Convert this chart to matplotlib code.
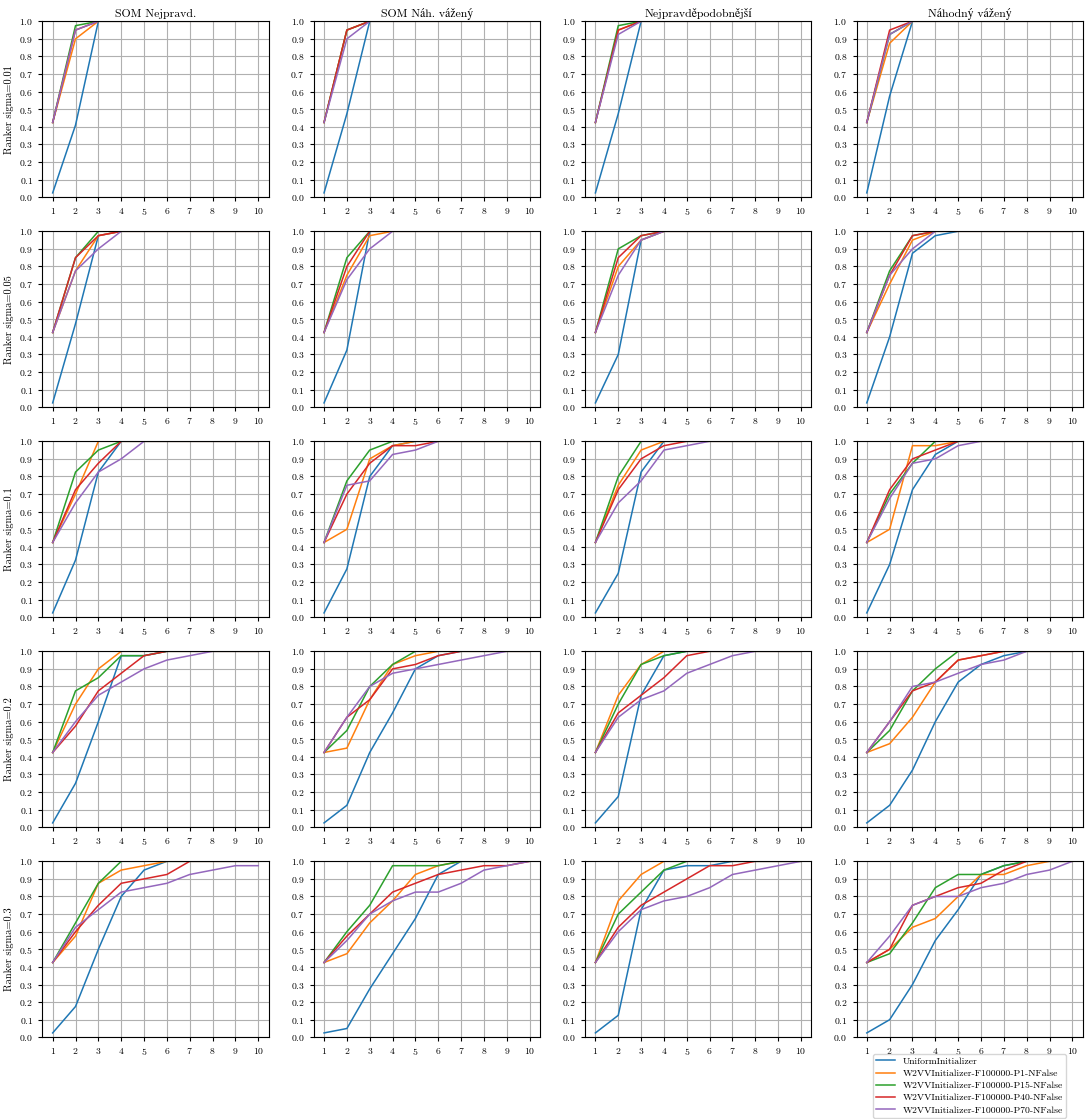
import matplotlib
matplotlib.use("Agg")
import matplotlib.pyplot as plt
import numpy as np

plt.rcParams['font.family'] = ['cmr10', 'STIXGeneral', 'DejaVu Serif']
plt.rcParams['mathtext.fontset'] = 'cm'
plt.rcParams['axes.formatter.use_mathtext'] = True
plt.rcParams['axes.unicode_minus'] = False

columns = ['SOM Nejpravd.', 'SOM Náh. vážený', 'Nejpravděpodobnější', 'Náhodný vážený']
sigmas = ['0.01', '0.05', '0.1', '0.2', '0.3']
series = ['UniformInitializer',
          'W2VVInitializer-F100000-P1-NFalse',
          'W2VVInitializer-F100000-P15-NFalse',
          'W2VVInitializer-F100000-P40-NFalse',
          'W2VVInitializer-F100000-P70-NFalse']
k = np.arange(1, 11)

# kazdy panel: [Uniform, P1, P15, P40, P70]
vals_s001 = [
    [[0.025, 0.41, 1, 1, 1, 1, 1, 1, 1, 1],
     [0.425, 0.9, 1, 1, 1, 1, 1, 1, 1, 1],
     [0.425, 0.975, 1, 1, 1, 1, 1, 1, 1, 1],
     [0.425, 0.95, 1, 1, 1, 1, 1, 1, 1, 1],
     [0.425, 0.95, 1, 1, 1, 1, 1, 1, 1, 1]],
    [[0.025, 0.475, 1, 1, 1, 1, 1, 1, 1, 1],
     [0.425, 0.95, 1, 1, 1, 1, 1, 1, 1, 1],
     [0.425, 0.95, 1, 1, 1, 1, 1, 1, 1, 1],
     [0.425, 0.95, 1, 1, 1, 1, 1, 1, 1, 1],
     [0.425, 0.9, 1, 1, 1, 1, 1, 1, 1, 1]],
    [[0.025, 0.475, 1, 1, 1, 1, 1, 1, 1, 1],
     [0.425, 0.95, 1, 1, 1, 1, 1, 1, 1, 1],
     [0.425, 0.975, 1, 1, 1, 1, 1, 1, 1, 1],
     [0.425, 0.95, 1, 1, 1, 1, 1, 1, 1, 1],
     [0.425, 0.925, 1, 1, 1, 1, 1, 1, 1, 1]],
    [[0.025, 0.575, 1, 1, 1, 1, 1, 1, 1, 1],
     [0.425, 0.875, 1, 1, 1, 1, 1, 1, 1, 1],
     [0.425, 0.925, 1, 1, 1, 1, 1, 1, 1, 1],
     [0.425, 0.95, 1, 1, 1, 1, 1, 1, 1, 1],
     [0.425, 0.925, 1, 1, 1, 1, 1, 1, 1, 1]],
]

vals_s005 = [
    [[0.025, 0.475, 0.975, 1, 1, 1, 1, 1, 1, 1],
     [0.425, 0.775, 0.975, 1, 1, 1, 1, 1, 1, 1],
     [0.425, 0.85, 1, 1, 1, 1, 1, 1, 1, 1],
     [0.425, 0.85, 0.975, 1, 1, 1, 1, 1, 1, 1],
     [0.425, 0.775, 0.9, 1, 1, 1, 1, 1, 1, 1]],
    [[0.025, 0.325, 1, 1, 1, 1, 1, 1, 1, 1],
     [0.425, 0.75, 0.975, 1, 1, 1, 1, 1, 1, 1],
     [0.425, 0.85, 1, 1, 1, 1, 1, 1, 1, 1],
     [0.425, 0.8, 1, 1, 1, 1, 1, 1, 1, 1],
     [0.425, 0.725, 0.9, 1, 1, 1, 1, 1, 1, 1]],
    [[0.025, 0.3, 0.95, 1, 1, 1, 1, 1, 1, 1],
     [0.425, 0.8, 0.95, 1, 1, 1, 1, 1, 1, 1],
     [0.425, 0.9, 0.975, 1, 1, 1, 1, 1, 1, 1],
     [0.425, 0.85, 0.975, 1, 1, 1, 1, 1, 1, 1],
     [0.425, 0.75, 0.95, 1, 1, 1, 1, 1, 1, 1]],
    [[0.025, 0.4, 0.875, 0.975, 1, 1, 1, 1, 1, 1],
     [0.425, 0.7, 0.95, 1, 1, 1, 1, 1, 1, 1],
     [0.425, 0.775, 0.975, 1, 1, 1, 1, 1, 1, 1],
     [0.425, 0.75, 0.975, 1, 1, 1, 1, 1, 1, 1],
     [0.425, 0.75, 0.9, 1, 1, 1, 1, 1, 1, 1]],
]

vals_s01 = [
    [[0.025, 0.325, 0.825, 1, 1, 1, 1, 1, 1, 1],
     [0.425, 0.7, 1, 1, 1, 1, 1, 1, 1, 1],
     [0.425, 0.825, 0.95, 1, 1, 1, 1, 1, 1, 1],
     [0.425, 0.725, 0.875, 1, 1, 1, 1, 1, 1, 1],
     [0.425, 0.65, 0.825, 0.9, 1, 1, 1, 1, 1, 1]],
    [[0.025, 0.275, 0.8, 0.975, 1, 1, 1, 1, 1, 1],
     [0.425, 0.5, 0.9, 0.975, 1, 1, 1, 1, 1, 1],
     [0.425, 0.775, 0.95, 1, 1, 1, 1, 1, 1, 1],
     [0.425, 0.7, 0.875, 0.975, 0.975, 1, 1, 1, 1, 1],
     [0.425, 0.75, 0.775, 0.925, 0.95, 1, 1, 1, 1, 1]],
    [[0.025, 0.25, 0.825, 1, 1, 1, 1, 1, 1, 1],
     [0.425, 0.75, 0.95, 1, 1, 1, 1, 1, 1, 1],
     [0.425, 0.8, 1, 1, 1, 1, 1, 1, 1, 1],
     [0.425, 0.725, 0.9, 0.975, 1, 1, 1, 1, 1, 1],
     [0.425, 0.65, 0.775, 0.95, 0.975, 1, 1, 1, 1, 1]],
    [[0.025, 0.3, 0.725, 0.925, 1, 1, 1, 1, 1, 1],
     [0.425, 0.5, 0.975, 0.975, 1, 1, 1, 1, 1, 1],
     [0.425, 0.7, 0.875, 1, 1, 1, 1, 1, 1, 1],
     [0.425, 0.725, 0.9, 0.95, 1, 1, 1, 1, 1, 1],
     [0.425, 0.675, 0.875, 0.9, 0.975, 1, 1, 1, 1, 1]],
]

vals_s02 = [
    [[0.025, 0.25, 0.6, 0.975, 0.975, 1, 1, 1, 1, 1],
     [0.425, 0.7, 0.9, 1, 1, 1, 1, 1, 1, 1],
     [0.425, 0.775, 0.85, 0.975, 0.975, 1, 1, 1, 1, 1],
     [0.425, 0.575, 0.775, 0.875, 0.975, 1, 1, 1, 1, 1],
     [0.425, 0.6, 0.75, 0.825, 0.9, 0.95, 0.975, 1, 1, 1]],
    [[0.025, 0.125, 0.425, 0.65, 0.9, 0.975, 1, 1, 1, 1],
     [0.425, 0.45, 0.725, 0.925, 0.975, 1, 1, 1, 1, 1],
     [0.425, 0.55, 0.8, 0.925, 1, 1, 1, 1, 1, 1],
     [0.425, 0.625, 0.725, 0.9, 0.925, 0.975, 1, 1, 1, 1],
     [0.425, 0.625, 0.8, 0.875, 0.9, 0.925, 0.95, 0.975, 1, 1]],
    [[0.025, 0.175, 0.75, 0.975, 1, 1, 1, 1, 1, 1],
     [0.425, 0.75, 0.925, 1, 1, 1, 1, 1, 1, 1],
     [0.425, 0.7, 0.925, 0.975, 1, 1, 1, 1, 1, 1],
     [0.425, 0.65, 0.75, 0.85, 0.975, 1, 1, 1, 1, 1],
     [0.425, 0.625, 0.725, 0.775, 0.875, 0.925, 0.975, 1, 1, 1]],
    [[0.025, 0.125, 0.325, 0.6, 0.825, 0.925, 0.975, 1, 1, 1],
     [0.425, 0.475, 0.625, 0.825, 0.95, 0.975, 1, 1, 1, 1],
     [0.425, 0.55, 0.775, 0.9, 1, 1, 1, 1, 1, 1],
     [0.425, 0.6, 0.775, 0.825, 0.95, 0.975, 1, 1, 1, 1],
     [0.425, 0.6, 0.8, 0.825, 0.875, 0.925, 0.95, 1, 1, 1]],
]

vals_s03 = [
    [[0.025, 0.175, 0.5, 0.8, 0.95, 1, 1, 1, 1, 1],
     [0.425, 0.575, 0.875, 0.95, 0.975, 1, 1, 1, 1, 1],
     [0.425, 0.65, 0.875, 1, 1, 1, 1, 1, 1, 1],
     [0.425, 0.6, 0.75, 0.875, 0.9, 0.925, 1, 1, 1, 1],
     [0.425, 0.625, 0.725, 0.825, 0.85, 0.875, 0.925, 0.95, 0.975, 0.975]],
    [[0.025, 0.05, 0.275, 0.475, 0.675, 0.925, 1, 1, 1, 1],
     [0.425, 0.475, 0.65, 0.775, 0.925, 0.975, 1, 1, 1, 1],
     [0.425, 0.6, 0.75, 0.975, 0.975, 0.975, 1, 1, 1, 1],
     [0.425, 0.575, 0.7, 0.825, 0.875, 0.925, 0.95, 0.975, 0.975, 1],
     [0.425, 0.55, 0.7, 0.775, 0.825, 0.825, 0.875, 0.95, 0.975, 1]],
    [[0.025, 0.125, 0.725, 0.95, 0.975, 0.975, 1, 1, 1, 1],
     [0.425, 0.775, 0.925, 1, 1, 1, 1, 1, 1, 1],
     [0.425, 0.7, 0.825, 0.95, 1, 1, 1, 1, 1, 1],
     [0.425, 0.625, 0.75, 0.825, 0.9, 0.975, 0.975, 1, 1, 1],
     [0.425, 0.6, 0.725, 0.775, 0.8, 0.85, 0.925, 0.95, 0.975, 1]],
    [[0.025, 0.1, 0.3, 0.55, 0.725, 0.925, 0.975, 1, 1, 1],
     [0.425, 0.5, 0.625, 0.675, 0.8, 0.925, 0.925, 0.975, 1, 1],
     [0.425, 0.475, 0.65, 0.85, 0.925, 0.925, 0.975, 1, 1, 1],
     [0.425, 0.5, 0.75, 0.8, 0.85, 0.875, 0.95, 1, 1, 1],
     [0.425, 0.575, 0.75, 0.8, 0.8, 0.85, 0.875, 0.925, 0.95, 1]],
]

all_vals = [vals_s001, vals_s005, vals_s01, vals_s02, vals_s03]
colors = ['#1f77b4', '#ff7f0e', '#2ca02c', '#d62728', '#9467bd']

fig, axes = plt.subplots(5, 4, figsize=(10.87, 11.19), dpi=100)
fig.subplots_adjust(left=0.039, right=0.996, top=0.981, bottom=0.073,
                    wspace=0.2, hspace=0.193)

for r, sigma in enumerate(sigmas):
    for c, col in enumerate(columns):
        ax = axes[r, c]
        for s, name in enumerate(series):
            ax.plot(k, all_vals[r][c][s], color=colors[s], linewidth=1.1, label=name)
        ax.set_ylim(0, 1)
        ax.set_yticks(np.arange(0, 1.01, 0.1))
        ax.set_xticks(k)
        ax.grid(True, color='#b0b0b0', linewidth=0.8)
        ax.tick_params(labelsize=7, length=3)
        if r == 0:
            ax.set_title(col, fontsize=8.5, pad=3)
        if c == 0:
            ax.set_ylabel(f'Ranker sigma={sigma}', fontsize=7.5)

axes[4, 3].legend(loc='upper center', bbox_to_anchor=(0.5, -0.068),
                  fontsize=7, handlelength=2.0, borderpad=0.3,
                  labelspacing=0.35, framealpha=0.8)

plt.savefig('out.png', dpi=100)
